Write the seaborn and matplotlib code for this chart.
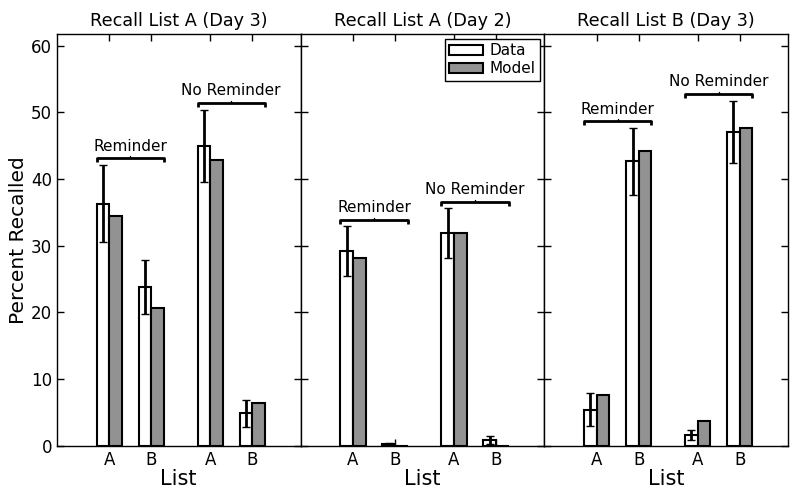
import numpy as np
import pandas as pd
import seaborn as sns
import matplotlib.pyplot as plt
from matplotlib.patches import Patch

# values
titles = ['Recall List A (Day 3)', 'Recall List A (Day 2)', 'Recall List B (Day 3)']
conditions = ['Reminder', 'No Reminder']
lists = ['A', 'B']
positions = [0.0, 1.0, 2.4, 3.4]   # bar group centres: Rem A, Rem B, NoRem A, NoRem B

data_mean = [[36.3, 23.8, 45.0, 4.9],
             [29.2, 0.3, 31.9, 0.95],
             [5.45, 42.65, 1.7, 47.1]]
data_err = [[5.8, 4.1, 5.4, 2.0],
            [3.7, 0.1, 3.7, 0.6],
            [2.5, 5.0, 0.75, 4.65]]
model_mean = [[34.4, 20.6, 42.8, 6.4],
              [28.2, 0.05, 31.9, 0.03],
              [7.7, 44.15, 3.75, 47.6]]

bar_w = 0.6
gray = '#929292'

sns.set_style('white', {'text.color': 'black', 'axes.labelcolor': 'black',
                        'xtick.color': 'black', 'ytick.color': 'black',
                        'axes.edgecolor': 'black'})
plt.rcParams['font.family'] = ['DejaVu Sans']
plt.rcParams['xtick.direction'] = 'in'
plt.rcParams['ytick.direction'] = 'in'

fig, axes = plt.subplots(1, 3, figsize=(8, 4.96), dpi=100, sharey=True)
fig.subplots_adjust(left=0.071, right=0.985, bottom=0.101, top=0.931, wspace=0)

for i, ax in enumerate(axes):
    rows = []
    for j, p in enumerate(positions):
        rows.append({'pos': p, 'Source': 'Data', 'value': data_mean[i][j]})
        rows.append({'pos': p, 'Source': 'Model', 'value': model_mean[i][j]})
    df = pd.DataFrame(rows)

    sns.barplot(data=df, x='pos', y='value', hue='Source', native_scale=True,
                palette={'Data': 'white', 'Model': gray}, edgecolor='black',
                linewidth=1.5, width=bar_w, errorbar=None, legend=False, ax=ax)

    # error bars on the data bars
    xs = np.array(positions) - bar_w / 4
    ax.errorbar(xs, data_mean[i], yerr=data_err[i], fmt='none', ecolor='black',
                elinewidth=2, capsize=3, capthick=1)

    # brackets over each condition
    for c, cond in enumerate(conditions):
        idx = [2 * c, 2 * c + 1]
        x0 = positions[idx[0]] - bar_w / 2
        x1 = positions[idx[1]] + bar_w / 2
        top = max(data_mean[i][k] + data_err[i][k] for k in idx) + 1.0
        ax.plot([x0, x0, x1, x1], [top - 0.6, top, top, top - 0.6],
                color='black', lw=2, solid_capstyle='butt')
        xm = (x0 + x1) / 2
        ax.plot([xm, xm], [top, top + 0.3], color='black', lw=1)
        ax.text(xm, top + 0.7, cond, ha='center', va='bottom', fontsize=11)

    ax.set_xlim(-1.25, 4.55)
    ax.set_ylim(0, 61.7)
    ax.set_xticks(positions)
    ax.set_xticklabels(lists * 2, fontsize=12)
    ax.set_yticks([0, 10, 20, 30, 40, 50, 60])
    ax.tick_params(axis='y', labelsize=12)
    ax.tick_params(top=True, right=True, bottom=True, left=True, length=5, width=1)
    ax.set_xlabel('List', fontsize=15, labelpad=0)
    ax.set_ylabel('')
    ax.set_title(titles[i], fontsize=12.7, pad=6)
    for s in ax.spines.values():
        s.set_color('black')
        s.set_linewidth(1)

axes[0].set_ylabel('Percent Recalled', fontsize=14.5, labelpad=2)

handles = [Patch(facecolor='white', edgecolor='black', linewidth=1.5, label='Data'),
           Patch(facecolor=gray, edgecolor='black', linewidth=1.5, label='Model')]
axes[1].legend(handles=handles, loc='upper right', fontsize=11, frameon=True,
               fancybox=False, edgecolor='black', framealpha=1,
               borderpad=0.3, handlelength=2.2, handletextpad=0.4,
               labelspacing=0.2, borderaxespad=0.3)

fig.savefig('out.png', dpi=100)
